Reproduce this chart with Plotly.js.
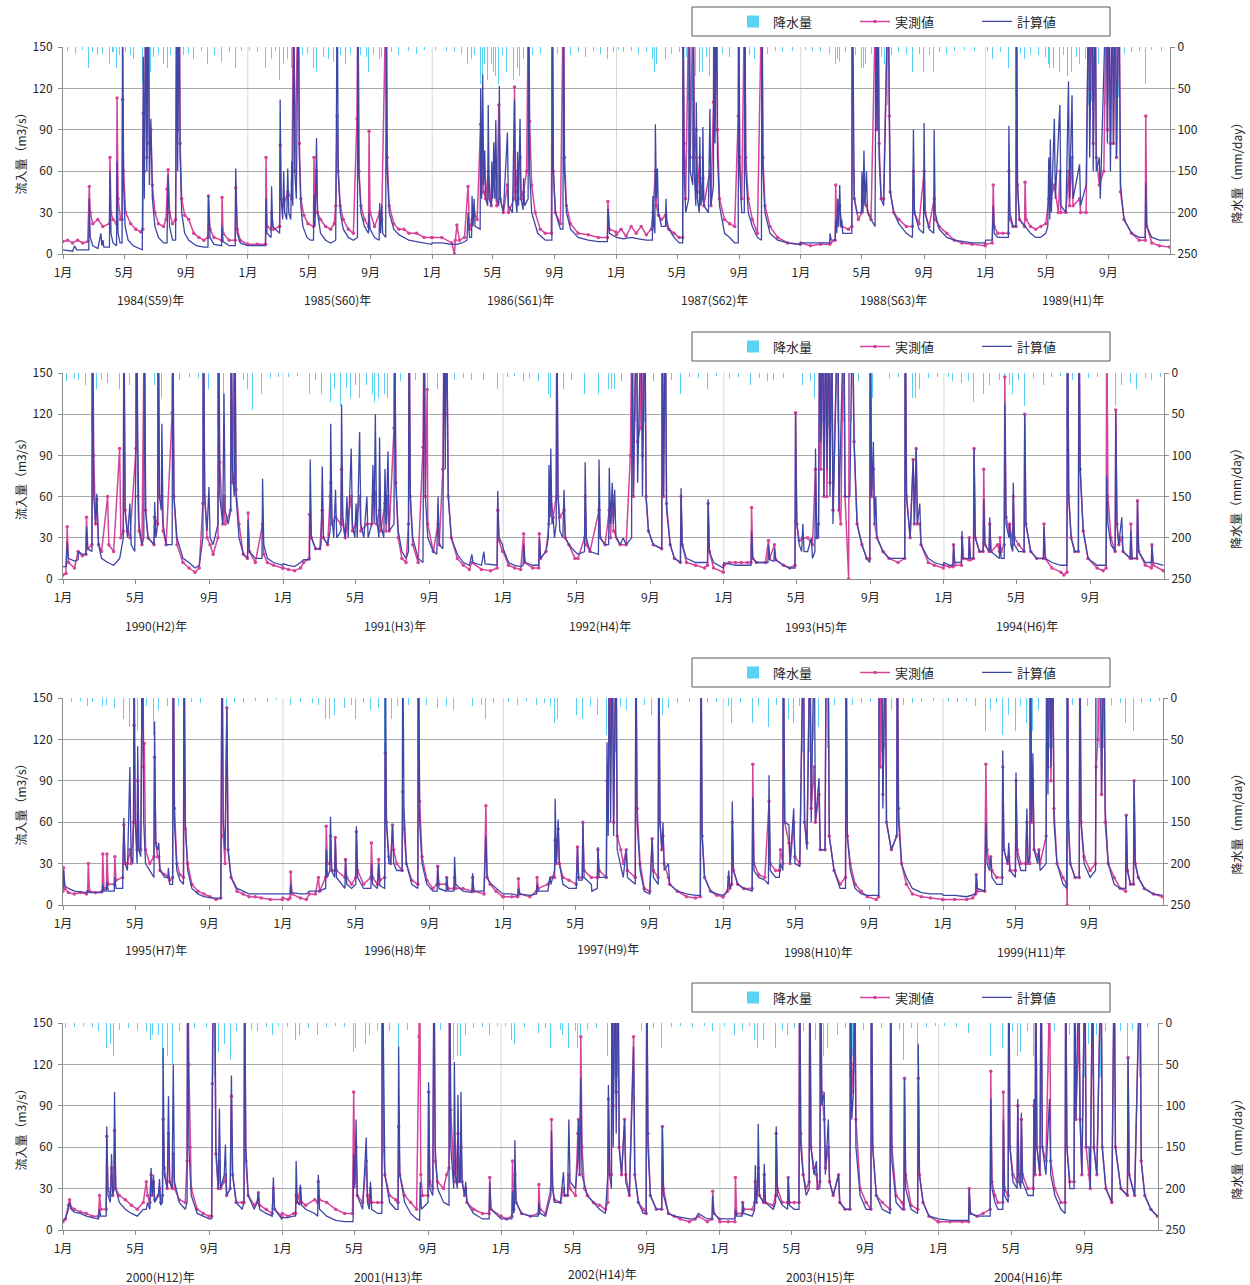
<!DOCTYPE html>
<html><head><meta charset="utf-8">
<script src="https://cdn.plot.ly/plotly-3.0.1.min.js"></script>
<style>body{margin:0;background:#fff}</style>
</head><body><div id="chart" style="width:1250px;height:1285px"></div>
<script>
// ===== DATA: flat [dayOfYear, value, ...] =====
// 計算値 (computed inflow, m3/s)
const calc1984=[1,3,20,2,24,6,28,3,52,3,53,40,55,12,60,6,70,4,76,15,78,6,80,10,82,5,93,5,94,60,96,15,100,8,107,6,108,67,110,15,114,8,118,8,119,200,121,50,124,20,130,10,140,6,150,4,158,3,160,143,162,40,165,200,167,60,170,200,172,50,175,98,178,40,183,20,190,12,200,8,207,8,209,57,212,20,218,10,224,10,226,200,228,60,231,200,233,70,236,30,242,15,250,10,265,6,280,5,288,5,289,42,292,12,300,7,315,6,316,20,318,9,330,6,342,6,343,62,346,15,352,8,366,6];
const calc1985=[1,6,20,6,36,6,37,40,39,15,47,12,48,49,50,20,64,15,65,112,67,40,70,25,72,60,74,30,78,25,80,62,82,30,86,25,88,67,90,35,92,200,94,60,97,40,101,200,103,70,106,35,110,20,118,12,125,10,131,10,132,43,134,20,137,84,139,30,145,15,155,10,165,8,175,10,176,82,178,200,180,60,184,30,190,18,200,12,210,10,218,12,219,200,221,60,225,30,232,20,240,15,241,30,243,18,252,12,261,10,262,37,264,15,266,36,268,15,274,12,275,200,277,60,281,30,290,18,300,14,310,12,320,10,335,9,350,8,365,7];
const calc1986=[1,8,20,8,40,7,50,7,60,8,70,10,72,30,75,12,79,12,80,42,82,20,84,40,86,20,96,18,97,120,99,40,101,130,103,50,105,75,107,40,111,35,112,108,114,40,118,35,119,67,121,40,123,81,125,40,127,97,129,40,133,35,134,122,136,40,142,30,150,88,152,35,160,30,164,112,166,40,169,30,170,74,172,35,175,98,177,40,181,32,182,55,184,35,191,40,192,200,194,60,198,30,210,15,225,10,238,10,239,200,241,60,245,30,255,18,260,18,261,200,263,60,267,30,275,18,290,12,310,10,330,9,348,9,349,33,352,15,365,12];
const calc1987=[1,12,15,11,30,12,45,11,60,10,72,10,73,42,75,20,77,15,78,94,80,40,82,62,84,30,90,20,98,20,99,40,101,20,115,12,125,8,132,8,133,200,135,60,138,30,144,40,145,200,147,60,152,50,153,200,155,60,158,35,159,110,161,40,165,30,166,85,168,35,171,40,172,92,174,35,183,30,186,105,188,35,193,50,194,200,196,80,199,200,201,70,205,35,215,15,225,12,235,8,242,8,243,200,245,60,249,30,254,30,255,200,257,60,262,30,270,20,280,12,288,10,289,200,291,60,295,30,305,15,320,10,340,8,365,7];
const calc1988=[1,8,20,8,40,8,58,8,59,15,61,10,69,10,70,25,72,15,74,40,76,20,78,50,80,20,82,25,84,15,102,15,103,200,105,80,107,40,112,30,121,30,122,60,124,30,126,75,128,35,131,60,133,30,140,25,148,20,150,200,152,90,154,200,156,70,160,40,165,35,174,200,176,100,178,45,185,30,195,22,210,15,222,12,224,90,226,30,235,18,244,15,245,95,247,30,255,18,264,15,265,90,267,30,275,18,290,12,305,10,320,9,340,8,366,8];
const calc1989=[1,10,14,10,16,35,18,15,25,12,35,12,46,12,47,93,49,30,55,20,61,20,62,200,64,50,68,25,79,20,90,15,100,12,110,12,120,15,124,20,126,70,128,25,129,83,131,30,137,98,139,40,148,108,150,35,160,30,165,125,167,40,172,115,174,40,187,65,189,35,200,50,205,200,207,70,212,200,214,60,218,200,220,60,226,70,228,40,240,200,242,80,245,200,248,60,252,200,254,80,258,200,260,70,265,200,268,50,275,25,290,15,305,12,317,12,318,52,320,20,330,12,345,10,365,10];
const calc1990=[1,9,6,9,8,27,10,15,20,13,26,14,27,20,33,18,39,18,40,38,42,22,49,20,50,200,52,60,55,40,57,62,60,25,65,15,75,12,85,10,95,15,101,30,102,200,104,50,108,30,112,55,114,25,120,20,122,96,123,200,125,102,127,40,132,25,135,30,136,200,138,50,142,30,152,25,153,56,155,30,158,40,159,200,161,60,164,50,165,113,167,40,172,25,182,25,183,200,185,60,190,30,200,15,210,12,220,8,227,10,233,30,234,200,236,60,240,35,243,67,245,30,250,25,258,40,259,200,261,60,266,40,268,135,270,50,275,40,279,50,280,200,282,80,285,60,286,200,288,60,293,30,300,18,307,15,308,43,310,20,320,15,331,15,332,73,334,25,340,15,350,12,365,10];
const calc1991=[1,11,10,10,20,9,30,12,35,14,45,14,46,87,48,30,55,22,62,22,64,25,66,82,68,30,75,25,79,35,80,113,82,45,85,30,88,65,90,30,97,35,98,127,100,45,104,30,107,60,109,30,114,95,116,40,120,30,122,55,124,30,128,107,130,40,135,30,140,60,142,30,148,40,150,83,152,40,154,120,156,45,160,30,161,103,163,40,168,30,170,80,172,40,175,93,177,35,185,40,186,200,188,70,192,35,198,20,205,15,209,20,210,200,212,60,216,30,225,15,233,12,235,200,237,60,241,30,250,20,256,18,258,60,260,25,266,22,268,200,270,80,272,200,275,60,280,30,290,18,300,12,310,10,314,18,316,12,330,10,334,20,336,11,356,10,357,64,359,30,365,25];
const calc1992=[1,22,10,12,20,10,30,9,34,10,35,25,37,12,50,10,60,10,61,30,63,15,72,20,76,30,77,83,79,45,80,95,82,40,84,45,86,30,89,40,90,200,92,60,95,35,100,30,102,65,104,30,110,25,120,20,125,18,136,20,137,85,139,30,145,20,159,18,160,87,162,30,170,25,176,25,177,81,179,40,182,70,184,40,186,65,188,30,195,25,200,30,205,25,214,30,215,200,217,60,222,200,224,70,230,200,232,60,236,200,238,60,242,35,250,25,264,22,265,200,267,60,270,200,272,50,278,25,285,15,295,12,296,66,298,25,305,15,320,12,335,12,340,12,341,58,343,20,350,12,366,8];
const calc1993=[1,12,20,10,35,10,46,10,47,35,49,15,55,12,70,12,74,12,75,25,77,14,84,13,85,22,87,14,100,10,110,8,119,8,120,121,122,40,126,25,130,20,132,40,134,20,140,20,146,30,148,15,152,20,153,95,155,30,158,30,160,200,162,100,165,200,167,60,170,200,172,80,175,200,177,60,180,200,182,40,190,200,192,50,200,200,202,60,210,60,214,200,217,100,222,40,230,25,238,15,243,12,244,200,246,60,249,100,251,40,253,60,255,30,265,20,275,15,290,15,301,15,302,200,304,60,310,30,315,87,317,40,320,95,322,40,326,55,328,25,340,15,350,12,365,10];
const calc1994=[1,12,10,10,16,10,17,25,19,12,30,12,31,35,33,15,42,15,43,30,45,15,50,15,51,95,53,30,60,20,66,20,67,58,69,25,76,20,77,45,79,20,93,15,94,25,96,15,101,15,102,128,104,40,109,30,110,40,112,25,115,20,116,70,118,25,125,20,134,20,135,120,137,40,145,20,155,15,166,15,167,38,169,15,180,12,195,10,205,10,206,200,208,60,212,30,218,20,224,20,225,200,227,80,232,35,240,15,255,10,270,10,271,75,273,40,278,25,285,20,286,122,288,40,291,25,296,45,298,20,310,15,311,35,313,15,321,15,322,57,324,20,335,12,345,12,346,25,348,12,365,10];
const calc1995=[1,12,2,25,4,14,10,12,20,10,40,9,43,10,45,9,60,9,66,9,67,15,69,10,73,10,74,17,76,10,86,10,87,20,89,12,100,12,102,63,104,30,108,25,112,100,114,35,117,30,118,60,119,200,121,60,124,30,125,115,127,40,130,35,133,200,135,60,138,30,145,25,152,20,153,133,155,45,158,40,160,45,162,25,170,20,175,20,176,27,178,15,183,15,184,200,186,60,190,25,195,18,201,15,202,200,204,60,208,25,215,12,225,8,235,6,250,5,263,5,265,200,267,60,270,40,273,143,275,40,280,20,290,12,300,10,310,8,330,8,365,8];
const calc1996=[1,8,10,8,13,8,14,15,16,9,30,8,40,8,45,10,55,10,60,10,72,12,73,40,75,20,79,25,80,64,82,25,87,20,88,48,90,20,104,12,105,33,107,15,115,12,122,15,123,57,125,20,135,12,147,12,148,30,150,15,158,12,160,30,162,14,170,12,171,200,173,60,177,30,180,30,183,58,185,30,190,25,199,25,200,200,202,70,206,30,215,15,225,12,226,200,228,60,232,30,240,15,250,10,257,10,258,28,260,12,272,10,273,20,275,10,285,10,286,35,288,15,300,10,315,9,316,23,318,10,335,10,338,50,340,20,345,16,355,12,366,8];
const calc1997=[1,8,15,8,25,7,26,12,28,8,45,7,56,8,57,15,59,10,75,10,78,20,80,15,86,25,87,77,89,30,92,62,94,30,100,15,110,12,122,12,124,42,126,18,132,18,133,60,135,20,147,15,148,10,157,12,158,42,160,20,172,20,173,118,175,50,177,200,179,60,182,200,184,50,188,200,190,40,200,20,205,40,207,20,220,15,221,200,223,60,228,25,235,10,244,8,248,48,250,20,258,15,259,200,261,60,264,40,266,60,268,25,275,30,277,15,290,10,305,8,320,7,328,7,329,200,331,50,335,20,345,10,355,8,365,7];
const calc1998=[1,7,8,10,10,25,12,12,15,15,16,75,18,25,25,15,35,12,49,10,50,78,52,25,60,20,70,18,76,15,77,94,79,25,88,20,94,20,96,30,100,25,101,200,103,60,110,58,112,30,118,70,120,30,128,28,134,200,136,60,140,40,145,200,147,60,152,200,154,60,160,92,162,40,170,40,172,200,175,200,177,50,185,25,195,12,204,12,205,200,207,50,212,25,220,12,230,8,240,7,255,7,259,7,260,200,262,150,264,200,266,70,270,200,272,60,280,40,289,50,290,200,292,60,297,30,305,20,315,12,330,9,345,8,365,8];
const calc1999=[1,7,20,7,40,6,50,7,55,8,56,22,58,12,70,10,72,60,74,30,78,25,80,35,82,20,90,15,99,15,100,112,102,40,108,30,110,45,112,25,121,20,122,96,124,35,130,25,138,25,140,70,142,30,145,35,146,200,148,60,150,110,152,40,158,30,160,40,162,25,172,30,173,200,175,80,178,200,180,100,183,200,185,60,190,30,200,15,206,12,207,200,209,60,212,30,220,20,227,20,228,200,230,60,235,30,245,20,254,25,255,200,258,150,262,200,264,80,268,200,270,70,275,30,285,15,295,12,304,12,305,65,307,25,312,15,317,15,318,90,320,30,325,20,335,12,350,8,365,7];
const calc2000=[1,7,5,8,10,15,12,20,15,15,20,13,30,12,40,10,50,9,60,8,62,15,64,10,73,10,74,75,76,25,80,20,82,55,84,25,86,30,87,100,89,30,95,20,105,15,115,12,125,10,135,15,140,15,142,20,146,15,148,45,150,25,152,40,154,20,160,25,162,37,164,18,167,20,168,132,170,40,175,30,177,97,179,35,183,30,185,120,187,35,195,20,205,15,208,20,209,200,211,60,215,25,225,12,235,10,245,8,249,8,252,200,254,200,256,60,260,30,262,88,264,30,270,40,272,62,274,25,280,30,282,112,284,40,290,20,300,15,303,20,304,200,306,60,310,25,320,15,325,20,327,27,329,15,340,12,350,10,352,38,354,15,366,8];
const calc2001=[1,9,10,9,20,10,23,10,24,50,26,20,30,18,31,33,33,18,40,15,55,12,60,10,61,40,63,15,75,10,90,7,105,6,119,6,120,55,122,30,124,80,126,25,135,15,141,67,143,20,146,15,148,35,150,15,160,12,167,12,168,200,170,90,172,40,180,20,190,15,194,15,195,133,197,40,205,20,215,12,225,8,230,7,231,35,233,15,244,20,245,107,247,30,252,25,254,200,256,60,260,30,270,20,279,18,280,200,282,60,287,30,288,122,290,40,293,30,294,98,296,35,298,35,299,100,301,35,305,25,307,35,309,20,320,12,335,8,346,8,347,35,349,15,365,8];
const calc2002=[1,8,10,8,19,8,20,28,22,12,23,15,24,65,26,20,35,12,50,10,63,10,64,20,66,12,75,10,84,25,85,72,87,30,90,20,100,20,105,42,107,25,112,25,114,80,116,35,125,30,129,50,130,80,132,40,134,110,136,40,145,25,155,20,165,15,175,12,179,40,180,105,182,40,185,30,186,200,188,60,191,200,193,70,196,200,198,60,202,40,207,80,209,35,215,25,222,133,224,40,230,20,238,12,243,12,244,200,246,60,250,25,260,15,269,15,270,75,272,25,280,12,290,10,300,9,315,8,325,8,330,12,345,8,353,8,354,25,356,12,365,8];
const calc2003=[1,8,15,8,26,8,27,15,29,10,38,10,39,20,41,12,55,10,59,15,60,47,62,20,64,30,65,77,67,25,74,20,75,48,77,20,90,15,94,20,95,75,97,25,105,18,114,15,115,38,117,18,125,15,133,15,134,200,136,60,140,40,145,25,150,30,151,200,153,60,158,40,162,50,164,30,168,30,169,200,171,90,175,100,177,40,182,80,184,35,190,25,199,40,201,20,210,15,218,15,219,200,221,80,224,100,226,200,228,60,235,25,245,15,253,15,254,200,256,60,262,25,272,15,285,12,286,200,288,50,295,20,305,15,308,15,309,110,311,30,320,15,331,12,332,135,334,40,340,20,350,10,365,8];
const calc2004=[1,8,20,7,40,7,51,7,52,30,54,12,65,10,75,10,87,10,88,95,90,30,95,20,100,15,108,15,109,80,111,25,117,20,118,200,120,60,125,35,132,30,133,95,135,35,138,30,139,85,141,35,150,25,159,25,160,95,162,40,163,200,165,60,170,40,172,200,174,60,180,40,186,95,188,40,195,25,205,15,212,12,213,200,215,60,220,30,227,30,228,200,230,80,235,200,237,80,240,40,245,200,247,60,252,60,254,30,258,200,260,60,265,40,272,200,274,60,280,30,290,20,294,200,296,60,305,30,316,25,317,125,319,40,328,25,337,200,339,50,345,25,355,15,366,10];

// 実測値 (observed inflow, m3/s)
const obs1984=[1,9,10,10,20,8,30,10,40,8,50,9,53,49,55,30,60,22,70,25,80,20,93,22,94,70,96,30,100,25,107,22,108,113,110,40,115,25,118,25,119,112,121,60,125,30,135,22,145,18,155,16,159,18,160,102,162,60,165,200,167,70,170,200,172,80,175,90,178,50,183,30,190,22,200,20,205,25,207,47,209,61,212,30,218,22,224,25,226,200,228,90,231,200,233,80,236,40,242,28,250,25,260,15,270,12,280,10,288,12,289,42,292,18,300,12,315,10,316,41,318,15,330,10,342,10,343,48,346,18,352,10,366,7];
const obs1985=[1,7,20,7,36,7,37,70,39,20,47,18,48,30,52,18,64,20,65,79,67,40,72,35,80,45,88,40,92,200,94,60,101,200,103,80,106,40,112,28,120,22,131,20,132,70,134,30,137,60,139,30,145,25,155,20,165,18,172,22,175,35,178,100,180,60,184,35,190,25,200,18,210,15,217,98,219,200,221,60,225,35,232,25,240,20,241,89,243,30,252,20,262,30,266,25,275,200,277,70,281,35,290,22,300,18,310,18,320,15,335,15,350,12,365,12];
const obs1986=[1,12,20,12,40,8,45,0,47,10,50,21,55,10,65,12,72,49,75,18,80,25,84,30,90,25,97,94,99,45,101,70,103,45,107,40,112,60,118,35,123,55,129,35,133,108,136,40,142,30,150,50,152,30,163,40,164,121,166,45,170,60,175,70,177,40,182,45,188,60,192,200,194,96,198,50,205,30,215,18,225,15,237,15,239,200,241,60,245,30,255,22,261,200,263,70,267,35,275,22,290,15,310,14,330,12,348,12,349,38,352,18,365,16];
const obs1987=[1,14,10,18,20,13,30,20,40,15,50,20,60,14,70,18,73,30,78,60,80,35,84,28,90,25,98,28,105,18,115,15,125,12,132,12,133,150,135,80,138,40,145,200,147,70,153,200,155,70,159,90,161,45,166,70,168,40,172,55,174,35,186,60,188,35,193,110,194,200,196,90,199,200,201,90,205,40,215,25,225,22,235,20,242,100,243,200,245,70,249,40,255,200,257,70,262,40,270,25,280,15,289,200,291,70,295,35,305,20,320,12,340,8,365,7];
const obs1988=[1,8,20,6,40,7,58,7,60,8,69,10,70,50,72,20,78,35,82,20,95,18,102,20,103,200,105,60,107,40,115,25,122,30,126,40,131,35,140,25,150,200,152,90,154,200,156,80,160,40,165,40,174,200,176,100,178,45,185,30,195,25,210,20,222,20,224,60,226,30,235,22,245,60,247,30,255,20,265,40,267,25,275,20,290,15,305,10,320,8,340,7,366,6];
const obs1989=[1,7,14,8,16,50,18,20,25,15,35,15,46,15,47,60,49,25,55,20,61,20,62,200,64,50,68,25,78,20,79,52,81,25,90,20,100,18,110,20,120,22,126,40,130,40,137,50,145,30,148,60,150,30,160,30,165,60,167,35,172,70,174,35,187,40,189,30,200,30,205,200,207,120,212,200,214,80,218,200,220,70,226,50,235,60,240,200,242,90,245,200,248,80,252,200,254,80,258,200,260,70,265,200,268,45,275,25,290,15,305,10,317,10,318,100,320,20,330,8,345,6,365,5];
const obs1990=[1,3,6,4,8,38,10,12,20,8,26,20,33,17,39,18,40,45,42,22,49,25,50,200,52,90,55,40,57,58,60,25,65,20,75,60,77,25,85,20,95,95,97,30,101,35,102,200,104,50,108,35,112,30,122,95,123,200,125,60,127,35,132,25,136,200,138,50,142,30,152,25,153,45,158,40,159,200,161,60,165,60,167,35,172,25,182,121,183,200,185,60,190,25,200,12,210,8,220,5,227,8,233,55,234,200,236,60,240,30,245,25,250,18,258,30,259,200,261,85,266,40,268,60,270,40,279,50,280,200,282,70,286,200,288,65,293,40,300,18,307,15,308,48,310,20,320,12,332,40,334,18,340,12,350,10,365,8];
const obs1991=[1,8,10,7,20,6,30,8,35,12,44,15,45,47,48,30,55,22,62,22,66,50,68,30,75,25,79,60,80,70,82,40,88,45,97,40,98,80,100,40,104,30,114,60,116,35,122,40,128,60,130,35,140,40,148,40,150,60,154,63,156,40,161,50,163,35,170,55,172,35,175,60,177,35,185,110,186,200,188,70,192,30,198,15,205,12,209,40,210,200,212,60,216,25,225,12,233,96,235,200,237,60,240,138,241,40,250,20,258,40,260,25,266,80,268,200,270,120,272,200,275,60,280,30,290,15,300,10,310,7,314,12,330,7,345,6,356,8,357,50,359,28,365,20];
const obs1992=[1,20,10,10,20,8,30,7,35,33,37,12,50,8,60,8,61,33,63,15,72,20,77,40,80,60,84,45,89,60,90,200,92,60,95,45,102,50,104,30,110,25,120,15,125,15,136,30,137,60,139,25,145,20,160,50,162,30,170,25,177,50,179,30,182,60,184,35,195,25,205,25,212,90,215,200,217,60,222,200,224,100,228,110,230,200,232,90,236,200,238,60,242,35,250,25,264,22,265,200,267,60,270,200,272,55,278,25,285,15,295,12,296,60,298,25,305,12,320,10,335,8,340,10,341,55,343,20,350,8,366,5];
const obs1993=[1,10,10,12,20,12,30,12,40,12,46,12,47,52,49,15,55,12,70,12,75,28,77,15,85,25,87,14,100,10,110,8,119,10,120,121,122,40,126,28,132,30,140,30,148,25,153,80,155,30,158,40,160,200,162,80,165,200,167,60,170,200,172,60,175,200,177,70,180,200,182,50,190,200,192,50,195,40,200,200,202,60,208,0,209,200,212,200,214,200,217,100,222,40,230,25,238,15,243,15,244,200,246,60,249,80,251,40,255,30,265,20,275,15,290,12,301,15,302,200,304,60,310,30,315,87,317,40,320,95,322,40,326,40,328,25,340,12,350,10,365,8];
const obs1994=[1,10,10,9,16,9,17,25,19,10,30,10,31,30,33,15,42,14,43,30,45,14,50,15,51,95,53,30,60,20,66,20,67,80,69,25,76,20,77,40,79,20,90,25,93,20,94,30,96,20,101,25,102,147,104,45,109,35,110,40,115,25,116,60,118,30,125,25,134,20,135,120,137,40,145,20,155,15,166,15,167,40,169,15,180,8,195,5,200,3,205,5,206,200,208,60,212,30,218,20,224,20,225,200,227,80,232,35,240,15,255,8,265,6,270,8,271,200,273,60,278,30,285,20,286,123,288,40,291,25,296,30,298,20,310,15,311,40,313,15,321,15,322,57,324,20,335,10,345,8,346,25,348,10,365,6];
const obs1995=[1,10,2,27,4,12,10,9,20,8,30,9,40,8,42,10,43,30,45,10,55,9,66,10,67,37,69,12,73,12,74,37,76,15,86,15,87,35,89,18,100,20,102,58,104,30,108,30,112,40,114,30,118,60,119,130,121,60,124,40,125,90,127,40,130,40,133,200,135,100,136,117,138,40,145,30,152,35,153,107,155,45,158,35,160,35,162,25,170,22,176,20,178,18,183,20,184,200,186,70,190,30,195,22,201,20,202,200,204,55,208,30,215,15,225,10,235,8,245,6,255,4,263,5,265,200,267,50,270,30,273,143,275,40,280,20,290,10,300,8,310,6,320,6,330,5,345,4,365,4];
const obs1996=[1,5,10,4,13,5,14,24,16,8,30,5,40,4,45,8,55,8,60,20,62,10,72,20,73,57,75,30,79,30,80,50,82,25,87,25,88,49,90,25,104,20,105,33,107,20,115,15,122,20,123,53,125,25,135,15,147,20,148,45,150,20,158,15,160,33,162,18,170,20,171,110,173,60,177,35,180,30,183,58,185,40,190,30,199,25,200,82,202,55,206,30,215,18,225,15,226,200,228,75,232,35,240,18,250,12,257,15,258,28,260,15,272,15,273,20,275,12,285,12,286,20,288,12,300,12,315,10,316,20,318,10,335,8,338,72,340,20,345,15,355,10,366,6];
const obs1997=[1,6,15,6,25,6,26,19,28,8,45,6,56,10,57,20,59,12,75,15,80,20,86,20,87,47,89,30,92,55,94,30,100,20,110,18,122,15,124,42,126,20,132,20,133,60,135,25,147,20,157,20,158,40,160,25,172,20,173,90,175,60,177,200,179,120,182,200,184,60,188,200,190,50,196,40,200,30,205,40,207,25,220,20,221,200,223,70,228,30,235,12,244,10,248,48,250,25,258,20,259,200,261,60,264,40,266,50,268,30,275,20,277,15,290,10,305,6,320,5,328,6,329,200,331,50,335,20,345,10,355,7,365,6];
const obs1998=[1,6,8,10,10,20,12,12,15,15,16,60,18,25,25,15,35,12,49,12,50,102,52,30,60,22,70,20,77,75,79,30,88,25,94,25,96,40,100,30,101,200,103,60,110,45,112,30,118,60,120,35,128,30,134,200,136,60,140,45,145,200,147,70,152,100,154,60,160,80,162,40,170,40,172,200,175,200,177,50,185,25,195,15,204,20,205,200,207,50,212,30,220,15,230,10,240,6,255,4,259,6,260,200,262,100,264,200,266,80,270,200,272,60,280,40,289,50,290,200,292,70,297,30,305,15,315,8,330,6,345,5,365,4];
const obs1999=[1,4,20,4,40,4,50,5,55,8,56,22,58,10,70,10,72,102,74,40,78,30,80,35,82,25,90,20,99,20,100,100,102,40,108,30,110,35,112,25,121,25,122,90,124,40,130,30,138,30,140,60,142,30,145,30,146,200,148,60,150,90,152,40,158,35,160,40,162,30,172,50,173,200,175,100,178,200,180,90,183,200,185,70,190,30,200,20,206,15,207,0,208,200,209,60,212,30,220,20,227,20,228,200,230,60,235,35,245,25,254,30,255,100,258,120,262,200,264,80,268,200,270,60,275,30,285,20,295,12,304,10,305,65,307,25,312,15,317,15,318,90,320,30,325,20,335,12,350,8,365,6];
const obs2000=[1,6,5,8,10,18,12,22,15,16,20,15,30,13,40,12,50,10,60,10,62,25,64,15,73,15,74,68,76,30,80,25,82,45,84,25,86,30,87,72,89,30,95,25,105,22,115,18,125,15,135,20,140,35,142,25,146,20,148,40,150,25,152,35,154,22,160,25,162,30,164,20,167,25,168,80,170,45,175,30,177,70,179,35,183,30,185,55,187,30,195,22,205,20,208,50,209,200,211,120,213,60,215,30,225,15,235,12,245,10,249,10,250,106,252,200,254,200,256,55,260,30,262,50,264,30,270,35,272,40,274,25,280,30,282,97,284,40,290,20,300,20,303,20,304,200,306,50,310,25,320,18,325,20,327,27,329,18,340,15,350,12,352,30,354,15,366,10];
const obs2001=[1,12,10,10,20,12,23,12,24,25,26,20,31,30,33,20,40,18,55,22,60,20,61,35,63,22,75,20,90,15,105,12,118,12,120,100,122,35,124,60,126,25,135,20,141,50,143,25,146,20,148,30,150,20,160,20,167,20,168,200,170,60,172,40,180,25,190,22,194,20,195,75,197,40,205,25,215,20,225,15,229,140,230,200,232,40,235,25,244,25,245,100,247,35,252,30,254,200,256,50,260,35,270,30,275,40,279,45,280,200,282,87,287,40,288,50,290,35,294,70,296,35,299,60,301,35,305,25,307,30,309,20,320,15,335,12,346,12,347,38,349,15,365,10];
const obs2002=[1,10,10,8,19,10,20,50,22,15,24,40,26,20,35,12,50,10,63,12,64,33,66,15,75,12,84,30,85,80,87,30,90,22,100,20,105,30,107,25,112,25,114,40,116,30,125,25,129,70,130,80,132,40,134,140,136,60,140,30,145,25,155,20,165,18,175,15,179,20,180,95,182,40,185,40,186,200,188,90,191,200,193,100,196,200,198,60,202,40,207,80,209,40,215,25,222,140,224,40,230,20,238,15,243,12,244,200,246,70,250,25,260,15,269,15,270,75,272,30,280,12,290,10,300,8,315,6,325,8,330,10,345,6,353,8,354,28,356,12,365,8];
const obs2003=[1,6,15,6,26,6,27,38,29,12,38,12,39,20,41,15,55,15,59,20,60,35,62,20,65,45,67,25,74,20,75,40,77,20,90,18,94,25,95,70,97,30,105,20,114,20,115,38,117,20,125,20,133,20,134,200,136,70,140,40,145,30,150,35,151,200,153,60,158,45,162,40,164,30,168,35,169,200,171,100,175,80,177,45,182,60,184,35,190,25,199,40,201,20,210,15,218,15,219,200,221,100,224,120,226,200,228,80,235,30,245,20,253,15,254,200,256,60,262,25,272,20,285,15,286,200,288,60,295,25,305,20,308,15,309,110,311,40,320,18,331,15,332,110,334,40,340,20,350,10,365,6];
const obs2004=[1,6,20,6,40,6,51,6,52,30,54,12,65,10,75,12,87,15,88,115,90,35,95,25,100,20,108,20,109,100,111,30,117,25,118,200,120,60,125,40,132,35,133,90,135,40,138,35,139,80,141,40,150,30,159,30,160,90,162,40,163,200,165,60,170,40,172,200,174,60,180,50,185,150,186,200,188,50,195,30,205,20,212,20,213,200,215,60,220,35,227,35,228,200,230,80,235,150,237,80,240,40,245,200,247,60,252,40,254,30,258,200,260,60,265,40,272,200,274,60,280,30,290,20,294,200,296,60,305,30,316,25,317,125,319,40,328,25,337,200,339,50,345,25,355,15,366,10];

// 降水量 (rainfall, mm/day)
const rain1984=[10,5,25,8,40,4,52,25,60,6,70,10,80,8,93,20,100,6,107,25,112,10,118,40,125,6,135,10,140,15,159,45,164,60,169,50,174,30,180,12,190,8,200,20,208,25,214,10,225,60,230,55,240,10,250,8,260,15,275,5,288,20,300,10,315,18,330,6,342,25,355,5];
const rain1985=[5,4,20,6,36,25,47,15,55,5,64,40,71,20,79,15,87,25,91,60,100,55,110,10,120,8,131,25,136,30,150,12,160,15,170,18,177,70,185,10,195,20,205,8,218,65,225,10,235,12,240,30,250,8,261,15,265,12,274,60,285,6,300,10,320,5,335,8,350,4];
const rain1986=[8,4,30,5,45,6,60,8,71,20,79,15,85,10,96,45,100,40,105,20,111,40,118,20,122,30,126,35,133,45,140,10,149,30,163,40,169,25,174,35,181,15,191,70,200,10,215,8,238,65,250,8,260,70,275,10,290,6,305,12,320,5,335,8,348,15,360,6];
const rain1987=[5,4,15,6,30,5,45,8,60,6,72,15,77,30,81,20,98,15,110,8,125,6,132,70,140,12,144,65,152,65,158,35,165,30,171,30,180,12,185,35,193,70,198,65,210,8,225,12,242,70,254,65,265,10,275,15,288,65,300,8,315,5,330,6,350,5];
const rain1988=[10,4,25,5,40,5,58,8,69,20,73,15,77,18,90,6,102,70,110,10,121,25,125,25,130,20,140,8,149,70,153,60,160,12,166,20,173,70,180,10,195,6,210,8,223,30,235,8,244,30,255,10,264,30,275,6,290,8,305,5,325,4,345,5];
const rain1989=[5,5,15,15,30,6,46,25,61,60,70,8,78,15,90,8,105,10,120,12,125,20,128,25,136,25,147,30,155,10,164,35,171,30,180,12,186,20,198,15,204,70,211,65,217,60,225,20,239,70,244,65,251,60,257,60,264,60,275,8,290,6,305,5,317,45,330,4,350,5];
const rain1990=[7,10,20,6,26,8,39,15,49,70,56,20,65,8,75,12,95,20,101,60,111,15,122,55,135,60,152,15,158,60,164,30,182,60,195,8,210,5,225,6,233,65,242,20,258,65,267,40,279,60,285,60,300,8,307,20,316,45,331,25,345,6,358,5];
const rain1991=[10,5,25,4,45,25,55,8,65,25,79,35,87,20,97,40,106,18,113,30,121,15,127,30,139,15,149,25,153,35,160,30,169,25,174,30,185,70,195,10,209,65,220,8,234,65,240,30,257,20,267,70,271,65,285,8,300,6,313,8,333,8,356,20];
const rain1992=[8,5,20,4,34,10,45,6,60,10,76,25,79,30,89,65,101,20,115,8,136,25,150,10,159,25,176,20,181,20,185,20,198,10,214,65,221,60,229,60,235,60,250,10,264,65,269,60,280,8,295,25,310,5,325,6,340,20,355,4];
const rain1993=[10,6,25,5,46,15,60,6,74,10,84,8,100,6,119,40,131,15,145,10,152,30,159,65,164,60,169,60,174,65,179,60,189,60,199,60,208,60,213,60,225,10,243,65,248,30,260,8,275,6,290,5,301,65,314,30,319,30,325,20,340,6,355,5];
const rain1994=[8,5,16,10,30,12,42,10,50,35,66,25,76,15,93,8,101,45,109,15,115,25,125,8,134,40,150,6,166,15,180,5,195,4,205,65,215,8,224,65,240,6,255,5,270,45,285,40,295,15,310,12,321,20,335,6,345,8,360,5];
const rain1995=[1,10,15,5,30,4,42,10,50,5,66,10,73,8,86,12,101,25,111,35,118,50,124,40,132,60,140,10,152,45,160,15,175,10,183,65,192,10,201,65,215,5,230,6,250,4,264,70,272,40,285,5,300,6,320,4,340,5,355,3];
const rain1996=[13,8,30,5,50,6,60,8,72,25,79,25,87,20,104,12,115,8,122,25,135,6,147,15,159,12,170,70,182,25,192,10,199,65,210,8,225,70,240,8,257,12,272,10,285,15,300,6,315,10,330,8,337,25,350,6];
const rain1997=[10,5,25,8,40,4,56,8,70,6,79,10,86,30,91,25,105,8,123,20,132,25,145,10,157,20,172,45,176,65,181,60,187,65,195,10,205,15,220,65,235,8,247,20,258,65,265,20,275,12,290,6,310,5,328,65,340,6,355,5];
const rain1998=[9,10,15,30,30,6,49,30,60,10,76,35,90,8,100,60,109,25,117,30,127,10,133,65,144,65,151,50,159,35,171,65,174,60,185,8,204,65,215,8,230,6,245,5,259,70,263,65,269,60,280,15,289,65,300,8,315,6,330,5,350,4];
const rain1999=[10,4,25,5,40,4,55,10,71,40,79,15,90,6,99,45,109,20,121,40,130,10,139,30,145,60,149,40,160,15,172,65,177,60,182,60,195,10,206,65,215,8,227,65,240,10,254,60,257,50,261,60,267,60,280,8,295,6,304,30,317,40,330,6,345,5,360,4];
const rain2000=[5,6,11,10,20,5,35,4,50,5,61,10,73,30,81,25,86,40,95,8,110,6,125,8,141,10,147,20,151,15,161,15,167,55,176,40,184,50,195,10,208,70,220,6,240,5,251,65,253,65,261,35,271,25,281,45,290,10,303,65,315,8,326,10,340,5,351,15,360,4];
const rain2001=[10,5,23,20,30,15,45,6,60,15,75,5,90,4,105,5,119,35,123,30,140,25,147,15,160,8,167,70,180,10,194,50,210,8,229,65,244,40,253,65,265,8,279,65,287,45,293,40,298,40,306,15,320,6,335,5,346,15,360,4];
const rain2002=[8,4,19,20,23,25,40,5,63,12,75,6,84,30,100,8,104,15,113,30,125,10,129,30,133,50,145,8,160,6,179,40,185,65,190,65,195,65,206,30,221,50,235,8,243,65,255,6,269,30,285,5,300,4,320,5,340,4,353,10];
const rain2003=[8,4,26,15,38,8,50,4,59,20,64,30,74,20,94,30,105,8,114,15,125,6,133,65,140,10,150,65,161,20,168,65,174,40,181,30,198,15,210,6,218,65,223,40,225,60,240,8,253,65,270,6,285,65,300,8,308,45,320,6,331,50,345,5,360,4];
const rain2004=[10,4,30,5,51,12,70,5,87,40,100,6,108,30,117,65,125,10,132,40,138,35,150,10,159,40,162,65,171,65,185,60,195,10,212,65,220,15,227,65,234,50,244,65,251,25,257,65,265,15,271,65,280,10,293,65,305,10,316,45,325,8,336,65,350,5,362,4];

// Years shown in each panel and their year labels
const panelYears=[[1984,1985,1986,1987,1988,1989],[1990,1991,1992,1993,1994],[1995,1996,1997,1998,1999],[2000,2001,2002,2003,2004]];
const yearLabels={1984:'1984(S59)年',1985:'1985(S60)年',1986:'1986(S61)年',1987:'1987(S62)年',1988:'1988(S63)年',1989:'1989(H1)年',
1990:'1990(H2)年',1991:'1991(H3)年',1992:'1992(H4)年',1993:'1993(H5)年',1994:'1994(H6)年',
1995:'1995(H7)年',1996:'1996(H8)年',1997:'1997(H9)年',1998:'1998(H10)年',1999:'1999(H11)年',
2000:'2000(H12)年',2001:'2001(H13)年',2002:'2002(H14)年',2003:'2003(H15)年',2004:'2004(H16)年'};
const monthTicks=[['01','1月'],['05','5月'],['09','9月']];
const seriesNames=['降水量','実測値','計算値'];

// ===== LAYOUT (pixel positions) =====
const W=1250,H=1285;
const panelBox=[
 {l:63,r:1170,t:47,b:254,leg:7,lab:[[150,299],[338,299],[520,299],[714,299],[893,299],[1073,299]]},
 {l:63,r:1164,t:373,b:579,leg:332,lab:[[156,625],[395,625],[600,625],[816,626],[1027,625]]},
 {l:63,r:1163,t:698,b:905,leg:658,lab:[[156,949],[395,949],[608,948],[818,951],[1031,951]]},
 {l:63,r:1158,t:1023,b:1230,leg:983,lab:[[160,1276],[388,1276],[602,1273],[820,1276],[1028,1276]]}
];
const C={calc:{},obs:{},rain:{}};
[calc1984,calc1985,calc1986,calc1987,calc1988,calc1989,calc1990,calc1991,calc1992,calc1993,calc1994,calc1995,calc1996,calc1997,calc1998,calc1999,calc2000,calc2001,calc2002,calc2003,calc2004].forEach((a,i)=>C.calc[1984+i]=a);
[obs1984,obs1985,obs1986,obs1987,obs1988,obs1989,obs1990,obs1991,obs1992,obs1993,obs1994,obs1995,obs1996,obs1997,obs1998,obs1999,obs2000,obs2001,obs2002,obs2003,obs2004].forEach((a,i)=>C.obs[1984+i]=a);
[rain1984,rain1985,rain1986,rain1987,rain1988,rain1989,rain1990,rain1991,rain1992,rain1993,rain1994,rain1995,rain1996,rain1997,rain1998,rain1999,rain2000,rain2001,rain2002,rain2003,rain2004].forEach((a,i)=>C.rain[1984+i]=a);

function ds(y,d){return new Date(Date.UTC(y,0,d)).toISOString().slice(0,10);}
function build(years,src){const x=[],y=[];years.forEach(yr=>{const a=src[yr];for(let i=0;i<a.length;i+=2){x.push(ds(yr,a[i]));y.push(a[i+1]);}});return {x,y};}
const px=v=>v/W, py=v=>1-v/H;
const FONT='"Noto Sans CJK JP", "Noto Sans", sans-serif';
const COL={rain:'#5CD2F2',obs:'#D6449A',calc:'#3E46A6',grid:'#A8A8A8',vgrid:'#D6D6D6',axis:'#8C8C8C',text:'#262626'};

const traces=[],layout={width:W,height:H,margin:{l:0,r:0,t:0,b:0},paper_bgcolor:'#fff',plot_bgcolor:'rgba(0,0,0,0)',
 font:{family:FONT,size:12,color:COL.text},showlegend:true,bargap:0,shapes:[],annotations:[],barmode:'overlay'};

panelYears.forEach((years,p)=>{
  const B=panelBox[p];
  const xn=p+1, yr=2*p+1, yl=2*p+2;
  const xid=xn===1?'x':'x'+xn, yrid=yr===1?'y':'y'+yr, ylid='y'+yl;
  const legId=p===0?'legend':'legend'+(p+1);
  const first=years[0], last=years[years.length-1];
  const tv=[],tt=[];
  years.forEach(y=>monthTicks.forEach(m=>{tv.push(y+'-'+m[0]+'-01');tt.push(m[1]);}));
  layout[xn===1?'xaxis':'xaxis'+xn]={type:'date',domain:[px(B.l),px(B.r)],anchor:yrid,range:[first+'-01-01',(last+1)+'-01-01'],
    tickmode:'array',tickvals:tv,ticktext:tt,ticks:'outside',ticklen:4,tickcolor:COL.axis,showgrid:false,zeroline:false,ticklabelstandoff:4,
    showline:true,linecolor:COL.axis,linewidth:1,tickfont:{size:12,color:COL.text},fixedrange:true};
  // rainfall axis (main, right side, reversed)
  layout[yr===1?'yaxis':'yaxis'+yr]={domain:[py(B.b),py(B.t)],anchor:xid,side:'right',range:[250,0],tickvals:[0,50,100,150,200,250],
    ticks:'outside',ticklen:4,tickcolor:COL.axis,showgrid:false,zeroline:false,showline:true,linecolor:COL.axis,tickfont:{size:12,color:COL.text},fixedrange:true};
  // inflow axis (left, overlaying)
  layout['yaxis'+yl]={overlaying:yrid,anchor:xid,side:'left',range:[0,150],tickvals:[0,30,60,90,120,150],ticklabelstandoff:3,
    ticks:'outside',ticklen:4,tickcolor:COL.axis,showgrid:true,gridcolor:COL.grid,gridwidth:1,zeroline:false,showline:true,linecolor:COL.axis,tickfont:{size:12,color:COL.text},fixedrange:true};
  // vertical year-boundary grid lines
  years.slice(1).forEach(y=>layout.shapes.push({type:'line',xref:xid,yref:'paper',x0:y+'-01-01',x1:y+'-01-01',y0:py(B.b),y1:py(B.t),line:{color:COL.vgrid,width:1},layer:'below'}));
  // legend frame
  layout.shapes.push({type:'rect',xref:'paper',yref:'paper',x0:px(692),x1:px(1110),y0:py(B.leg+29),y1:py(B.leg),line:{color:'#595959',width:1},fillcolor:'rgba(0,0,0,0)',layer:'above'});
  layout[legId]={orientation:'h',x:px(733),xanchor:'left',y:py(B.leg+14.5),yanchor:'middle',bgcolor:'rgba(0,0,0,0)',borderwidth:0,
    entrywidth:77,entrywidthmode:'pixels',font:{size:13,color:COL.text,family:FONT},itemclick:false,itemdoubleclick:false,tracegroupgap:0};
  // year labels
  years.forEach((y,i)=>layout.annotations.push({xref:'paper',yref:'paper',x:px(B.lab[i][0]),y:py(B.lab[i][1]),text:yearLabels[y],showarrow:false,xanchor:'center',yanchor:'middle',font:{size:12,color:COL.text}}));
  // axis titles
  const cy=(B.t+B.b)/2;
  layout.annotations.push({xref:'paper',yref:'paper',x:px(20),y:py(cy),text:'流入量（m3/s）',textangle:-90,showarrow:false,xanchor:'center',yanchor:'middle',font:{size:12,color:COL.text}});
  layout.annotations.push({xref:'paper',yref:'paper',x:px(1236),y:py(cy+20),text:'降水量（mm/day）',textangle:-90,showarrow:false,xanchor:'center',yanchor:'middle',font:{size:12,color:COL.text}});

  const r=build(years,C.rain), o=build(years,C.obs), c=build(years,C.calc);
  const dayMs=86400000*(p===0?2:1.6);
  traces.push({type:'bar',name:seriesNames[0],x:r.x,y:r.y,xaxis:xid,yaxis:yrid,width:r.x.map(()=>dayMs),base:0,
    marker:{color:COL.rain,line:{width:0}},legend:legId,hoverinfo:'skip'});
  traces.push({type:'scatter',mode:'lines+markers',name:seriesNames[1],x:o.x,y:o.y,xaxis:xid,yaxis:ylid,
    line:{color:COL.obs,width:1.5},marker:{color:COL.obs,size:3.5},legend:legId,hoverinfo:'skip'});
  traces.push({type:'scatter',mode:'lines',name:seriesNames[2],x:c.x,y:c.y,xaxis:xid,yaxis:ylid,
    line:{color:COL.calc,width:1.3},legend:legId,hoverinfo:'skip'});
});

Plotly.newPlot('chart',traces,layout,{staticPlot:true,displayModeBar:false});
</script></body></html>
